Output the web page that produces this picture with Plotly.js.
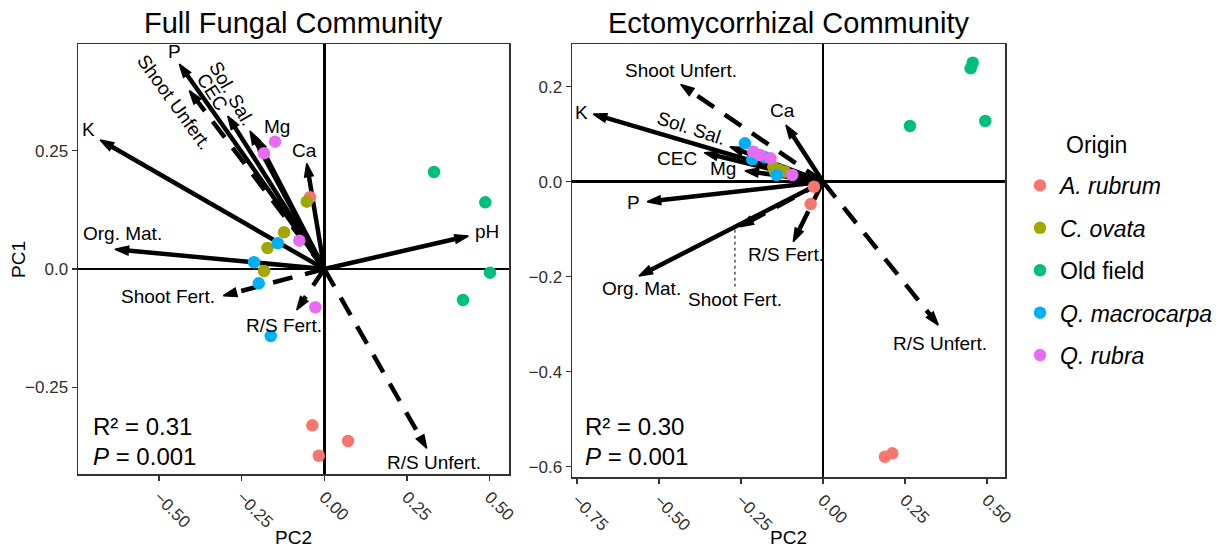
<!DOCTYPE html>
<html><head><meta charset="utf-8">
<script src="https://cdn.plot.ly/plotly-3.0.1.min.js"></script>
<style>html,body{margin:0;padding:0;background:#fff}#chart{width:1229px;height:549px}</style>
</head><body><div id="chart"></div>
<script>
// ---------- DATA ----------
const origins = ['A. rubrum', 'C. ovata', 'Old field', 'Q. macrocarpa', 'Q. rubra'];
const originItalic = [true, true, false, true, true];

// Full fungal community: sample scores (PC2 = x, PC1 = y)
const fullPC2 = {
  'A. rubrum':     [-0.0432, -0.0363, 0.0717, -0.0169],
  'C. ovata':      [-0.0532, -0.1219, -0.1718, -0.1823],
  'Old field':     [0.3317, 0.4868, 0.5010, 0.4194],
  'Q. macrocarpa': [-0.1409, -0.2126, -0.1984, -0.1621],
  'Q. rubra':      [-0.1490, -0.1823, -0.0756, -0.0272]
};
const fullPC1 = {
  'A. rubrum':     [0.1517, -0.3307, -0.3639, -0.3950],
  'C. ovata':      [0.1424, 0.0776, 0.0444, -0.0042],
  'Old field':     [0.2052, 0.1411, -0.0078, -0.0656],
  'Q. macrocarpa': [0.0544, 0.0142, -0.0303, -0.1417],
  'Q. rubra':      [0.2693, 0.2448, 0.0599, -0.0810]
};
// Full fungal community: environmental vectors
const fullVars   = ['K', 'P', 'Shoot Unfert.', 'CEC', 'Sol. Sal.', 'Mg', 'Ca', 'pH', 'Org. Mat.', 'Shoot Fert.', 'R/S Fert.', 'R/S Unfert.'];
const fullVarPC2 = [-0.678, -0.4385, -0.4082, -0.2921, -0.2247, -0.2065, -0.0532, 0.4354, -0.6329, -0.3054, -0.0835, 0.3096];
const fullVarPC1 = [0.2729, 0.4337, 0.3772, 0.3237, 0.2919, 0.2793, 0.2236, 0.0698, 0.0417, -0.0565, -0.0867, -0.3793];

// Ectomycorrhizal community: sample scores
const ectoPC2 = {
  'A. rubrum':     [-0.0274, -0.0375, 0.1890, 0.2113],
  'C. ovata':      [-0.1515, -0.1320, -0.1159, -0.1463],
  'Old field':     [0.4564, 0.4503, 0.2652, 0.4948],
  'Q. macrocarpa': [-0.2378, -0.2155, -0.1768, -0.1412],
  'Q. rubra':      [-0.2125, -0.1920, -0.0936, -0.1600]
};
const ectoPC1 = {
  'A. rubrum':     [-0.0105, -0.0470, -0.5790, -0.5718],
  'C. ovata':      [0.0316, 0.0246, 0.0210, 0.0210],
  'Old field':     [0.2505, 0.2387, 0.1173, 0.1278],
  'Q. macrocarpa': [0.0808, 0.0472, 0.0514, 0.0141],
  'Q. rubra':      [0.0632, 0.0562, 0.0141, 0.0492]
};
const ectoVars   = ['Shoot Unfert.', 'K', 'Ca', 'Sol. Sal.', 'CEC', 'Mg', 'P', 'Org. Mat.', 'Shoot Fert.', 'R/S Fert.', 'R/S Unfert.'];
const ectoVarPC2 = [-0.4338, -0.7003, -0.1128, -0.2835, -0.3619, -0.2378, -0.5357, -0.5610, -0.2530, -0.0905, 0.3515];
const ectoVarPC1 = [0.2050, 0.1425, 0.1194, 0.0737, 0.0611, 0.0232, -0.0421, -0.1985, -0.0947, -0.1263, -0.3017];

// plant-response vectors (drawn dashed)
const plantVars = ['Shoot Unfert.', 'Shoot Fert.', 'R/S Fert.', 'R/S Unfert.'];

const titles = ['Full Fungal Community', 'Ectomycorrhizal Community'];
const stats = [['R² = 0.31', '<i>P</i> = 0.001'], ['R² = 0.30', '<i>P</i> = 0.001']];
const legendTitle = 'Origin';

const fullXTicks = [-0.5, -0.25, 0, 0.25, 0.5];
const fullXText  = ['−0.50', '−0.25', '0.00', '0.25', '0.50'];
const fullYTicks = [-0.25, 0, 0.25];
const fullYText  = ['−0.25', '0.0', '0.25'];
const ectoXTicks = [-0.75, -0.5, -0.25, 0, 0.25, 0.5];
const ectoXText  = ['−0.75', '−0.50', '−0.25', '0.00', '0.25', '0.50'];
const ectoYTicks = [-0.6, -0.4, -0.2, 0, 0.2];
const ectoYText  = ['−0.6', '−0.4', '−0.2', '0.0', '0.2'];

// ---------- STYLE ----------
const colors = {'A. rubrum':'#F8766D','C. ovata':'#A3A500','Old field':'#00BF7D','Q. macrocarpa':'#00B0F6','Q. rubra':'#E76BF3'};
const FONT = 'Liberation Sans, Arial, Helvetica, sans-serif';
// label placement: pixel shift from arrow tip [dx, dy(up), angle]
const fullLabelPos = {
  'K':[-12,10,0], 'P':[-5,12,0], 'Shoot Unfert.':[-15,-12,54], 'CEC':[-16,24,57], 'Sol. Sal.':[-18,38,60],
  'Mg':[21,10,0], 'Ca':[-2,13,0], 'pH':[19,4,0], 'Org. Mat.':[7,16,0], 'Shoot Fert.':[-55,-1,0],
  'R/S Fert.':[-13,-16,0], 'R/S Unfert.':[7,-14,0]
};
const ectoLabelPos = {
  'Shoot Unfert.':[0,14,0], 'K':[-12,2,0], 'Ca':[-3,15,0], 'Sol. Sal.':[-38,18,18], 'CEC':[-27,-6,0],
  'Mg':[-22,2,0], 'P':[-14,-1,0], 'Org. Mat.':[3,-12,0], 'Shoot Fert.':[-5,-73,0],
  'R/S Fert.':[-7,-13,0], 'R/S Unfert.':[2,-18,0]
};

const traces = [];
const annotations = [];
const shapes = [];

function addArrows(vars, vx, vy, xa, ya, labelPos) {
  vars.forEach((v, i) => {
    const dashed = plantVars.includes(v);
    traces.push({
      type: 'scatter', mode: 'lines+markers', x: [0, vx[i]], y: [0, vy[i]], xaxis: xa, yaxis: ya,
      line: {color: '#000', width: 4.5, dash: dashed ? '20px,13px' : 'solid'},
      marker: {symbol: 'arrow', size: [0, 14], angleref: 'previous', color: '#000', opacity: [0, 1], line: {width: 1.5, color: '#000'}},
      showlegend: false, hoverinfo: 'skip', cliponaxis: false
    });
    const p = labelPos[v];
    annotations.push({
      text: v, x: vx[i], y: vy[i], xref: xa, yref: ya, showarrow: false,
      xshift: p[0], yshift: p[1], textangle: p[2], xanchor: 'center', yanchor: 'middle',
      font: {family: FONT, size: 19, color: '#000'}
    });
  });
}
addArrows(fullVars, fullVarPC2, fullVarPC1, 'x', 'y', fullLabelPos);
addArrows(ectoVars, ectoVarPC2, ectoVarPC1, 'x2', 'y2', ectoLabelPos);

origins.forEach((o, k) => {
  const nm = originItalic[k] ? '<i>' + o + '</i>' : o;
  traces.push({type:'scatter', mode:'markers', x: fullPC2[o], y: fullPC1[o], xaxis:'x', yaxis:'y',
    name: nm, legendgroup: o, marker:{color: colors[o], size: 12.5}, showlegend: true});
  traces.push({type:'scatter', mode:'markers', x: ectoPC2[o], y: ectoPC1[o], xaxis:'x2', yaxis:'y2',
    name: nm, legendgroup: o, marker:{color: colors[o], size: 12.5}, showlegend: false});
});

// dotted connector for the ecto "Shoot Fert." label
const sfI = ectoVars.indexOf('Shoot Fert.');
shapes.push({type:'line', xref:'x2', yref:'y2', xsizemode:'pixel', ysizemode:'pixel',
  xanchor: ectoVarPC2[sfI], yanchor: ectoVarPC1[sfI], x0:-5, x1:-5, y0:-3, y1:-61,
  line:{color:'#000', width:1, dash:'dot'}});

// titles
[[0.2388, titles[0]], [0.6416, titles[1]]].forEach(([x, t]) => annotations.push({
  text: t, xref:'paper', yref:'paper', x: x, y: 1 - 23/549, showarrow:false, xanchor:'center', yanchor:'middle',
  font:{family: FONT, size: 29, color:'#000'}}));
// axis titles
annotations.push({text:'PC1', xref:'paper', yref:'paper', x: 19/1229, y: 1-260/549, textangle:-90, showarrow:false,
  xanchor:'center', yanchor:'middle', font:{family:FONT, size:19, color:'#000'}});
[0.2388, 0.6416].forEach(x => annotations.push({text:'PC2', xref:'paper', yref:'paper', x:x, y:1-537/549,
  showarrow:false, xanchor:'center', yanchor:'middle', font:{family:FONT, size:19, color:'#000'}}));
// stats
[[91, stats[0]], [583, stats[1]]].forEach(([px, s]) => {
  annotations.push({text: s[0], xref:'paper', yref:'paper', x: px/1229, y: 1-426/549, showarrow:false,
    xanchor:'left', yanchor:'middle', font:{family:FONT, size:24, color:'#000'}});
  annotations.push({text: s[1], xref:'paper', yref:'paper', x: px/1229, y: 1-456/549, showarrow:false,
    xanchor:'left', yanchor:'middle', font:{family:FONT, size:24, color:'#000'}});
});
// legend title
annotations.push({text: legendTitle, xref:'paper', yref:'paper', x: 1096/1229, y: 1-145/549, showarrow:false,
  xanchor:'center', yanchor:'middle', font:{family:FONT, size:23, color:'#000'}});

function axis(domain, range, tv, tt, isX, anchor) {
  return {
    domain: domain, range: range, tickvals: tv, ticktext: tt, anchor: anchor,
    showgrid:false, zeroline:true, zerolinecolor:'#000', zerolinewidth:2.5,
    showline:true, mirror:true, linecolor:'#333', linewidth:1.5,
    ticks:'outside', ticklen:5, tickwidth:1.2, tickcolor:'#333',
    tickangle: isX ? 45 : 0, automargin:false, fixedrange:true,
    tickfont:{family:FONT, size:17, color:'#303030'}
  };
}

const layout = {
  width:1229, height:549, margin:{l:0, r:0, t:0, b:0},
  paper_bgcolor:'#fff', plot_bgcolor:'#fff',
  xaxis: axis([78/1229, 509/1229], [-0.745, 0.5585], fullXTicks, fullXText, true, 'y'),
  yaxis: axis([1-474/549, 1-44/549], [-0.4337, 0.476], fullYTicks, fullYText, false, 'x'),
  xaxis2: axis([572/1229, 1005/1229], [-0.765, 0.555], ectoXTicks, ectoXText, true, 'y2'),
  yaxis2: axis([1-477/549, 1-44/549], [-0.6217, 0.29], ectoYTicks, ectoYText, false, 'x2'),
  showlegend:true,
  legend:{x: 1020/1229, y: 1-164/549, xanchor:'left', yanchor:'top', tracegroupgap: 9.5,
    font:{family:FONT, size:23, color:'#000'}, bgcolor:'rgba(0,0,0,0)', itemwidth:30},
  annotations: annotations, shapes: shapes, hovermode:false
};

Plotly.newPlot('chart', traces, layout, {displayModeBar:false, staticPlot:true});
</script>
</body></html>
